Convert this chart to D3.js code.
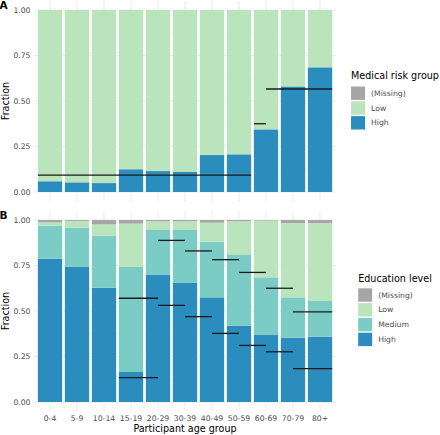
<!DOCTYPE html>
<html>
<head>
<meta charset="utf-8">
<script src="https://cdn.jsdelivr.net/npm/d3@7"></script>
<style>
  html, body { margin: 0; padding: 0; background: #fff; }
  svg { display: block; font-family: "DejaVu Sans", sans-serif; }
</style>
</head>
<body>
<svg id="chart" width="440" height="435"></svg>
<script>
// ---------- DATA ----------
const ageGroups = ["0-4","5-9","10-14","15-19","20-29","30-39","40-49","50-59","60-69","70-79","80+"];
const ageLo = [0, 5, 10, 15, 20, 30, 40, 50, 60, 70, 80];
const ageHi = [5, 10, 15, 20, 30, 40, 50, 60, 70, 80, 100];

// Panel A: medical risk group fractions
const riskHigh    = [0.059, 0.053, 0.049, 0.125, 0.115, 0.110, 0.203, 0.207, 0.344, 0.580, 0.685];
const riskLow     = [0.941, 0.947, 0.951, 0.875, 0.885, 0.890, 0.797, 0.793, 0.656, 0.420, 0.315];
const riskMissing = [0, 0, 0, 0, 0, 0, 0, 0, 0, 0, 0];

// Panel A: population reference (fraction high risk) by age range
const refRiskFrom  = [0, 60, 65];
const refRiskTo    = [60, 65, 100];
const refRiskValue = [0.093, 0.375, 0.566];

// Panel B: education level fractions
const eduHigh    = [0.787, 0.742, 0.628, 0.165, 0.698, 0.654, 0.575, 0.419, 0.368, 0.353, 0.359];
const eduMedium  = [0.182, 0.216, 0.286, 0.577, 0.247, 0.291, 0.306, 0.392, 0.317, 0.222, 0.196];
const eduLow     = [0.018, 0.037, 0.062, 0.238, 0.048, 0.048, 0.104, 0.182, 0.312, 0.408, 0.428];
const eduMissing = [0.013, 0.005, 0.024, 0.020, 0.007, 0.007, 0.015, 0.007, 0.003, 0.017, 0.017];

// Panel B: population reference (cumulative) by age range
const refEduFrom    = [15, 25, 35, 45, 55, 65, 75];
const refEduTo      = [25, 35, 45, 55, 65, 75, 100];
const refEduHigh    = [0.134, 0.531, 0.469, 0.377, 0.311, 0.276, 0.183];
const refEduHighMed = [0.570, 0.888, 0.830, 0.782, 0.712, 0.625, 0.495];

const yTicks = [0, 0.25, 0.5, 0.75, 1];
const yMinor = [0.125, 0.375, 0.625, 0.875];

const colors = { "(Missing)": "#a6a6a6", "Low": "#bae4bc", "Medium": "#7bccc4", "High": "#2b8cbe" };

// ---------- LAYOUT ----------
const svg = d3.select("#chart");
const panelX0 = 33.8, panelX1 = 336.2;
const x = d3.scaleBand().domain(ageGroups).range([panelX0, panelX1])
  .paddingInner(0.1).paddingOuter(0.15);
const bw = x.bandwidth();

function ageToX(a, isEnd) {
  let i;
  if (isEnd) i = ageLo.findIndex((lo, k) => a > lo && a <= ageHi[k]);
  else i = ageLo.findIndex((lo, k) => a >= lo && a < ageHi[k]);
  return x(ageGroups[i]) + bw * (a - ageLo[i]) / (ageHi[i] - ageLo[i]);
}

const smallFont = 7.7, titleFont = 9.6;
const tickColor = "#4d4d4d";

function drawPanel(opt) {
  const y = d3.scaleLinear().domain([0, 1]).range([opt.y0, opt.y1]);
  const span = opt.y0 - opt.y1;
  const top = opt.y1 - 0.05 * span, bottom = opt.y0 + 0.05 * span;
  const g = svg.append("g");

  // grid
  g.selectAll(".minor").data(yMinor).enter().append("line")
    .attr("x1", panelX0).attr("x2", panelX1)
    .attr("y1", d => y(d)).attr("y2", d => y(d))
    .attr("stroke", "#f1f1f1").attr("stroke-width", 0.5);
  g.selectAll(".major").data(yTicks).enter().append("line")
    .attr("x1", panelX0).attr("x2", panelX1)
    .attr("y1", d => y(d)).attr("y2", d => y(d))
    .attr("stroke", "#e6e6e6").attr("stroke-width", 0.8);
  g.selectAll(".vmajor").data(ageGroups).enter().append("line")
    .attr("x1", d => x(d) + bw / 2).attr("x2", d => x(d) + bw / 2)
    .attr("y1", top).attr("y2", bottom)
    .attr("stroke", "#e6e6e6").attr("stroke-width", 0.8);

  // stacked bars
  const rows = ageGroups.map((a, i) => {
    const r = { age: a };
    opt.keys.forEach((k, j) => r[k] = opt.series[j][i]);
    return r;
  });
  const stacked = d3.stack().keys(opt.keys)(rows);
  g.selectAll(".layer").data(stacked).enter().append("g")
    .attr("fill", d => colors[d.key])
    .selectAll("rect").data(d => d).enter().append("rect")
    .attr("x", d => x(d.data.age))
    .attr("width", bw)
    .attr("y", d => y(d[1]))
    .attr("height", d => Math.max(0, y(d[0]) - y(d[1])));

  // reference segments
  opt.refs.forEach(ref => {
    g.selectAll(null).data(ref.values).enter().append("line")
      .attr("x1", (d, i) => ageToX(ref.from[i], false))
      .attr("x2", (d, i) => ageToX(ref.to[i], true))
      .attr("y1", d => y(d)).attr("y2", d => y(d))
      .attr("stroke", "#1a1a1a").attr("stroke-width", 1.3);
  });

  // y axis labels
  g.selectAll(".ytl").data(yTicks).enter().append("text")
    .attr("x", 30.5).attr("y", d => y(d)).attr("dy", "0.35em")
    .attr("text-anchor", "end").attr("font-size", smallFont).attr("fill", tickColor)
    .text(d => d3.format(".2f")(d));

  // y axis title
  g.append("text")
    .attr("transform", `translate(9,${(top + bottom) / 2}) rotate(-90)`)
    .attr("text-anchor", "middle").attr("font-size", titleFont).attr("fill", "#000")
    .text("Fraction");

  // panel tag
  g.append("text").attr("x", -0.5).attr("y", opt.tagY)
    .attr("font-size", 10.5).attr("font-weight", "bold").attr("fill", "#000")
    .text(opt.tag);

  // legend
  const lg = svg.append("g");
  const title = lg.append("text").attr("y", opt.legendTitleY)
    .attr("font-size", titleFont).attr("fill", "#000").text(opt.legendTitle);
  const tw = title.node().getComputedTextLength();
  const legendLeft = 395 - tw / 2;
  title.attr("x", legendLeft);
  const legendKeys = opt.keys.slice().reverse();
  legendKeys.forEach((k, i) => {
    const ky = opt.legendKeyY + i * 14.8;
    lg.append("rect").attr("x", legendLeft).attr("y", ky)
      .attr("width", 14).attr("height", 13.4).attr("fill", colors[k]);
    lg.append("text").attr("x", legendLeft + 20).attr("y", ky + 6.7).attr("dy", "0.35em")
      .attr("font-size", smallFont).attr("fill", tickColor).text(k);
  });
}

drawPanel({
  y0: 192, y1: 10, tag: "A", tagY: 9,
  keys: ["High", "Low", "(Missing)"],
  series: [riskHigh, riskLow, riskMissing],
  refs: [{ from: refRiskFrom, to: refRiskTo, values: refRiskValue }],
  legendTitle: "Medical risk group", legendTitleY: 79.3, legendKeyY: 86.5
});

drawPanel({
  y0: 402, y1: 220, tag: "B", tagY: 219,
  keys: ["High", "Medium", "Low", "(Missing)"],
  series: [eduHigh, eduMedium, eduLow, eduMissing],
  refs: [
    { from: refEduFrom, to: refEduTo, values: refEduHigh },
    { from: refEduFrom, to: refEduTo, values: refEduHighMed }
  ],
  legendTitle: "Education level", legendTitleY: 281.7, legendKeyY: 288.3
});

// x axis labels (bottom panel only)
svg.append("g").selectAll("text").data(ageGroups).enter().append("text")
  .attr("x", d => x(d) + bw / 2).attr("y", 421.3)
  .attr("text-anchor", "middle").attr("font-size", smallFont).attr("fill", tickColor)
  .text(d => d);
svg.append("text").attr("x", (panelX0 + panelX1) / 2).attr("y", 432)
  .attr("text-anchor", "middle").attr("font-size", titleFont).attr("fill", "#000")
  .text("Participant age group");
</script>
</body>
</html>
